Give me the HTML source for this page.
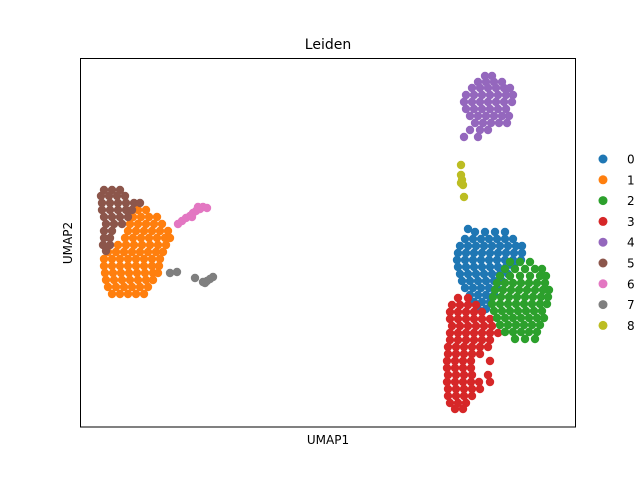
<!DOCTYPE html>
<html><head><meta charset="utf-8"><style>
html,body{margin:0;padding:0;background:#fff;}
svg{display:block;font-family:"DejaVu Sans","Liberation Sans",sans-serif;}
</style></head><body>
<svg id="chart" width="640" height="480">
<text x="328" y="49" text-anchor="middle" font-size="14">Leiden</text>
<g id="points"></g>
<rect x="80.5" y="58.5" width="495" height="368.5" fill="none" stroke="#000" stroke-width="1"/>
<text x="328" y="444" text-anchor="middle" font-size="12">UMAP1</text>
<text x="72" y="243" text-anchor="middle" font-size="12" transform="rotate(-90 72 243)">UMAP2</text>
<g id="legend"></g>
</svg>
<script>
const categories = ["0","1","2","3","4","5","6","7","8"];
const colors = ["#1f77b4","#ff7f0e","#2ca02c","#d62728","#9467bd","#8c564b","#e377c2","#7f7f7f","#bcbd22"];
// data rows: [y, [x values]] in UMAP units (domain x 0..496, y 0..369)
const cluster0 = [[198,[388]],[195,[395,405,415,425]],[188,[385,393,401,409,417,425,433]],[181,[380,388,396,404,412,420,428,436,442]],[174,[378,386,394,402,410,418,426,434,442]],[167,[377,385,393,401,409,417,425,433,441]],[160,[378,386,394,402,410,418,426,434]],[153,[380,388,396,404,412,420,428]],[146,[382,390,398,406,414,422]],[139,[385,393,401,409,417]],[132,[390,398,406,414]],[125,[394,402,410]],[118,[398,406]]];
const cluster1 = [[217,[58,66]],[210,[53,61,69,77]],[203,[50,58,66,74,82]],[196,[48,56,64,72,80,88]],[189,[45,53,61,69,77,85,90]],[182,[38,46,54,62,70,78,86]],[175,[28,36,44,52,60,68,76,83]],[168,[24,32,40,48,56,64,72,80]],[161,[24,32,40,48,56,64,72,79]],[154,[25,33,41,49,57,65,73,78]],[147,[26,34,42,50,58,66,73]],[140,[28,36,44,52,60,68]],[133,[32,40,48,56,64]]];
const cluster2 = [[165,[430,440,450]],[158,[425,435,445,455,462]],[151,[420,430,440,450,460,466]],[144,[417,425,433,441,449,457,465]],[137,[415,423,431,439,447,455,463,469]],[130,[413,421,429,437,445,453,461,468]],[123,[412,420,428,436,444,452,460,467]],[116,[414,422,430,438,446,454,462]],[109,[417,425,433,441,449,457,464]],[102,[420,428,436,444,452,460]],[95,[425,433,441,449,457]],[88,[435,445,455]]];
const cluster3 = [[129,[378,388]],[122,[372,380,388,396]],[115,[370,378,386,394,402]],[108,[370,378,386,394,402,410]],[101,[372,380,388,396,404,412]],[94,[370,378,386,394,402,410,418]],[87,[370,378,386,394,402,410]],[80,[368,376,384,392,400,408]],[73,[368,376,384,392,400]],[66,[367,375,383,391,410]],[59,[367,375,383,391]],[52,[368,376,384,392,408]],[45,[367,375,383,391,399,410]],[38,[368,376,384,392,400]],[31,[368,376,384,392]],[24,[370,378,386]],[18,[375,383]]];
const cluster4 = [[351,[405,412]],[345,[398,406,414,422]],[339,[392,400,408,416,424,430]],[332,[386,394,402,410,418,426,433]],[325,[384,392,400,408,416,424,432]],[318,[386,394,402,410,418,426]],[311,[390,398,406,414,422,429]],[304,[395,403,411,419,427]],[297,[390,400,408]],[290,[384,398]]];
const cluster5 = [[237,[24,32,40]],[231,[21,29,37,45]],[224,[22,30,38,46,54,60]],[217,[22,30,38,46,52]],[210,[24,32,40,48]],[203,[26,34,42]],[196,[24,32]],[189,[24,30]],[182,[23,30]],[176,[26]]];
const cluster6 = [[203,[98]],[206,[102]],[209,[106]],[211,[110]],[214,[113]],[216,[116]],[218,[120]],[220,[123]],[219,[127]],[220,[118]],[210,[112]]];
const cluster7 = [[154,[90]],[155,[97]],[149,[115]],[145,[123]],[146,[127]],[148,[130]],[150,[133]],[144,[125]]];
const cluster8 = [[262,[381]],[252,[381]],[247,[382]],[244,[381]],[242,[383]],[230,[384]]];
const drawOrder = [[1,cluster1],[5,cluster5],[6,cluster6],[7,cluster7],[4,cluster4],[8,cluster8],[0,cluster0],[3,cluster3],[2,cluster2]];

const xDomain=[0,496], yDomain=[0,369];
const px0=80, px1=576, py0=427, py1=58;
function xScale(v){return px0+(v-xDomain[0])/(xDomain[1]-xDomain[0])*(px1-px0);}
function yScale(v){return py0-(v-yDomain[0])/(yDomain[1]-yDomain[0])*(py0-py1);}
const NS="http://www.w3.org/2000/svg";
const g=document.getElementById('points');
drawOrder.forEach(function(pair){
  const ci=pair[0];
  pair[1].forEach(function(row){
    row[1].forEach(function(xv){
      const c=document.createElementNS(NS,'circle');
      c.setAttribute('cx',xScale(xv));
      c.setAttribute('cy',yScale(row[0]));
      c.setAttribute('r',4.2);
      c.setAttribute('fill',colors[ci]);
      
      
      g.appendChild(c);
    });
  });
});
const lg=document.getElementById('legend');
categories.forEach(function(cat,i){
  const y=159+i*20.8;
  const c=document.createElementNS(NS,'circle');
  c.setAttribute('cx',603);c.setAttribute('cy',y);c.setAttribute('r',4.5);
  c.setAttribute('fill',colors[i]);
  
  
  lg.appendChild(c);
  const t=document.createElementNS(NS,'text');
  t.setAttribute('x',627);t.setAttribute('y',y+4.5);t.setAttribute('font-size','12');
  t.textContent=cat;
  
  
  lg.appendChild(t);
});
</script>
</body></html>
